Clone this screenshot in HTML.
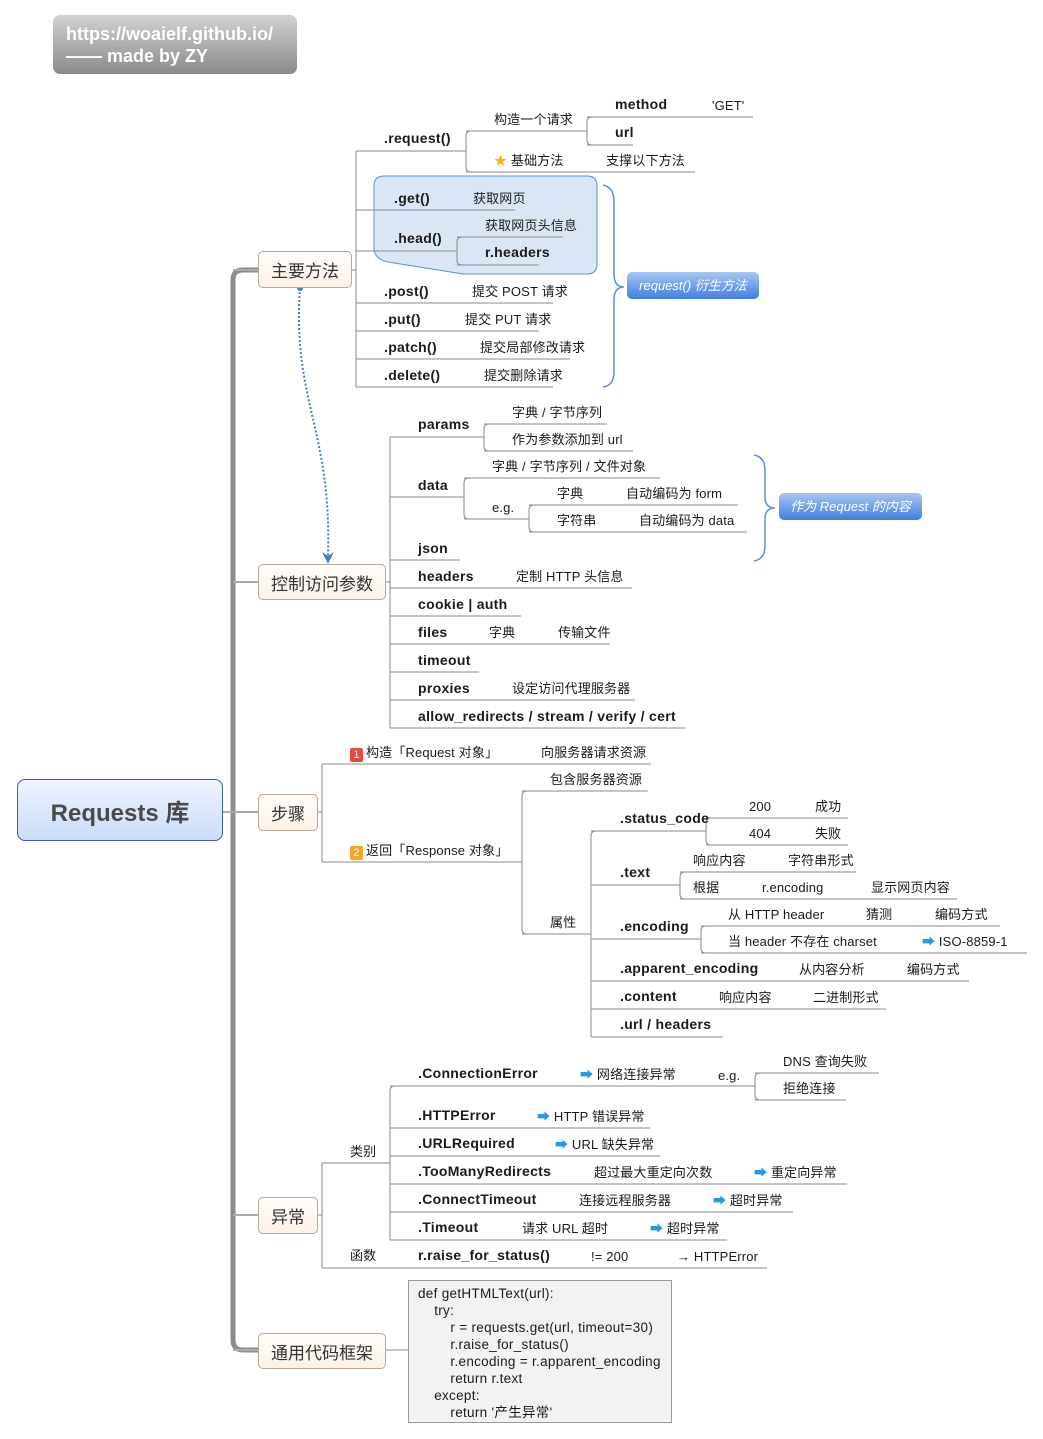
<!DOCTYPE html>
<html><head><meta charset="utf-8"><style>
body{margin:0;width:1043px;height:1439px;background:#fff;position:relative;overflow:hidden;font-family:"Liberation Sans","Noto Sans CJK SC",sans-serif;color:#1a1a1a}
.t{position:absolute;white-space:nowrap;font-size:13px;line-height:16px;letter-spacing:0.15px}
.b{font-weight:bold;font-size:14px;letter-spacing:0.3px}
.node{position:absolute;box-sizing:border-box;border:1px solid #b7a796;border-radius:5px;background:linear-gradient(#fffdfb,#fdf1e6);font-size:17px;display:flex;align-items:center;justify-content:center;color:#333}
.ar{color:#1e9be9}
.bd{display:inline-block;width:13px;height:14px;line-height:14px;text-align:center;color:#fff;font-size:11px;border-radius:2px;margin-right:3px;vertical-align:-1px}
svg{position:absolute;left:0;top:0}
</style></head><body>
<svg width="1043" height="1439">
<path d="M384,176 H587 Q597,176 597,186 V264 Q597,274 587,274 H463 L388,262 Q374,259 374,248 V186 Q374,176 384,176 Z" fill="#dbe6f4" stroke="#5d8fd4" stroke-width="1"/>
<g stroke="#8a8a8a" stroke-width="1" fill="none">
<path d="M352,270H356M356,151V387M356,151H466M356,210H515M356,251H457M356,303H553M356,331H539M356,359H570M356,387H553"/>
<path d="M471,131Q466,131 466,136V167Q466,172 471,172M466,131H587M466,172H695"/>
<path d="M592,117Q587,117 587,122V140Q587,145 592,145M587,117H753M587,145H633"/>
<path d="M462,237Q457,237 457,242V260Q457,265 462,265M457,237H563M457,265H539"/>
<path d="M386,582H390M390,437V728M390,437H484M390,497H464M390,560H460M390,588H632M390,616H521M390,644H610M390,672H479M390,700H635M390,728H685"/>
<path d="M489,424Q484,424 484,429V446Q484,451 489,451M484,424H607M484,451H633"/>
<path d="M469,478Q464,478 464,483V514Q464,519 469,519M464,478H660M464,519H529"/>
<path d="M534,505Q529,505 529,510V527Q529,532 534,532M529,505H738M529,532H747"/>
<path d="M318,812H322M322,764V862M322,764H651M322,862H522"/>
<path d="M527,791Q522,791 522,796V929Q522,934 527,934M522,791H648M522,934H591"/>
<path d="M596,831Q591,831 591,836V1037M591,831H706M591,885H680M591,939H701M591,981H969M591,1009H886M591,1037H723"/>
<path d="M711,818Q706,818 706,823V840Q706,845 711,845M706,818H848M706,845H848"/>
<path d="M685,872Q680,872 680,877V894Q680,899 685,899M680,872H856M680,899H957"/>
<path d="M706,926Q701,926 701,931V948Q701,953 706,953M701,926H1000M701,953H1027"/>
<path d="M318,1215H322M322,1163V1268M322,1163H390M322,1268H767"/>
<path d="M395,1086Q390,1086 390,1091V1240M390,1086H755M390,1128H650M390,1156H660M390,1184H847M390,1212H793M390,1240H727"/>
<path d="M760,1073Q755,1073 755,1078V1095Q755,1100 760,1100M755,1073H879M755,1100H846"/>
<path d="M386,1350H408"/>
</g>
<g stroke="#5b8fd6" stroke-width="1.5" fill="none">
<path d="M603,185 Q614,187 614,202 V274 Q614,287 624,287 Q614,287 614,300 V371 Q614,386 603,387"/>
<path d="M754,455 Q765,457 765,470 V497 Q765,508 775,508 Q765,508 765,519 V546 Q765,559 754,561"/>
</g>
<g fill="none">
<path d="M258,270H243Q233,270 233,280V1340Q233,1350 243,1350H258" stroke="#8c8c8c" stroke-width="5"/>
<path d="M233,270H258M233,582H258M223,812H258M233,1215H258M233,1350H258" stroke="#aaa" stroke-width="2"/>
</g>
<path d="M300,288 C292,400 332,430 328,556" stroke="#4a7cc0" stroke-width="2" stroke-dasharray="2,2" fill="none"/>
<circle cx="300" cy="288" r="3" fill="#4a7cc0"/>
<path d="M322,552 L328,564 L334,552 L328,556 Z" fill="#4a7cc0"/>
<rect x="408.5" y="1280.5" width="263" height="142" fill="#f2f2f2" stroke="#999"/>
</svg>

<div style="position:absolute;left:53px;top:15px;width:244px;height:59px;border-radius:7px;background:linear-gradient(#d2d2d2,#8a8a8a);color:#fff;font-weight:bold;font-size:18px;line-height:22px;padding:8px 0 0 13px;box-sizing:border-box">https://woaielf.github.io/<br>—— made by ZY</div>

<div style="position:absolute;left:17px;top:779px;width:206px;height:62px;box-sizing:border-box;border:1px solid #44608f;border-radius:8px;background:linear-gradient(#eef4ff,#cadcfa);display:flex;align-items:center;justify-content:center;font-size:24px;font-weight:bold;color:#4a4a4a">Requests 库</div>

<div class="node" style="left:258px;top:251px;width:94px;height:37px">主要方法</div>
<div class="node" style="left:258px;top:564px;width:128px;height:36px">控制访问参数</div>
<div class="node" style="left:258px;top:794px;width:60px;height:37px">步骤</div>
<div class="node" style="left:258px;top:1197px;width:60px;height:37px">异常</div>
<div class="node" style="left:258px;top:1333px;width:128px;height:36px">通用代码框架</div>

<div style="position:absolute;left:627px;top:272px;width:132px;height:27px;border-radius:5px;background:linear-gradient(#a9c6f2,#3f7fe0);color:#fff;font-style:italic;font-size:13px;line-height:27px;text-align:center">request() 衍生方法</div>
<div style="position:absolute;left:779px;top:493px;width:143px;height:27px;border-radius:5px;background:linear-gradient(#a9c6f2,#3f7fe0);color:#fff;font-style:italic;font-size:13px;line-height:27px;text-align:center">作为 Request 的内容</div>

<div class="t b" style="left:384px;top:130px">.request()</div>
<div class="t" style="left:494px;top:112px">构造一个请求</div>
<div class="t b" style="left:615px;top:96px">method</div>
<div class="t" style="left:712px;top:98px">'GET'</div>
<div class="t b" style="left:615px;top:124px">url</div>
<div class="t" style="left:494px;top:153px"><span style="color:#f4b400">★</span> 基础方法</div>
<div class="t" style="left:606px;top:153px">支撑以下方法</div>
<div class="t b" style="left:394px;top:190px">.get()</div>
<div class="t" style="left:473px;top:191px">获取网页</div>
<div class="t b" style="left:394px;top:230px">.head()</div>
<div class="t" style="left:485px;top:218px">获取网页头信息</div>
<div class="t b" style="left:485px;top:244px">r.headers</div>
<div class="t b" style="left:384px;top:283px">.post()</div>
<div class="t" style="left:472px;top:284px">提交 POST 请求</div>
<div class="t b" style="left:384px;top:311px">.put()</div>
<div class="t" style="left:465px;top:312px">提交 PUT 请求</div>
<div class="t b" style="left:384px;top:339px">.patch()</div>
<div class="t" style="left:480px;top:340px">提交局部修改请求</div>
<div class="t b" style="left:384px;top:367px">.delete()</div>
<div class="t" style="left:484px;top:368px">提交删除请求</div>

<div class="t b" style="left:418px;top:416px">params</div>
<div class="t" style="left:512px;top:405px">字典 / 字节序列</div>
<div class="t" style="left:512px;top:432px">作为参数添加到 url</div>
<div class="t b" style="left:418px;top:477px">data</div>
<div class="t" style="left:492px;top:459px">字典 / 字节序列 / 文件对象</div>
<div class="t" style="left:492px;top:500px">e.g.</div>
<div class="t" style="left:557px;top:486px">字典</div>
<div class="t" style="left:626px;top:486px">自动编码为 form</div>
<div class="t" style="left:557px;top:513px">字符串</div>
<div class="t" style="left:639px;top:513px">自动编码为 data</div>
<div class="t b" style="left:418px;top:540px">json</div>
<div class="t b" style="left:418px;top:568px">headers</div>
<div class="t" style="left:516px;top:569px">定制 HTTP 头信息</div>
<div class="t b" style="left:418px;top:596px">cookie | auth</div>
<div class="t b" style="left:418px;top:624px">files</div>
<div class="t" style="left:489px;top:625px">字典</div>
<div class="t" style="left:558px;top:625px">传输文件</div>
<div class="t b" style="left:418px;top:652px">timeout</div>
<div class="t b" style="left:418px;top:680px">proxies</div>
<div class="t" style="left:512px;top:681px">设定访问代理服务器</div>
<div class="t b" style="left:418px;top:708px">allow_redirects / stream / verify / cert</div>

<div class="t" style="left:350px;top:745px"><span class="bd" style="background:#e8483e">1</span>构造「Request 对象」</div>
<div class="t" style="left:541px;top:745px">向服务器请求资源</div>
<div class="t" style="left:350px;top:843px"><span class="bd" style="background:#f5a623">2</span>返回「Response 对象」</div>
<div class="t" style="left:550px;top:772px">包含服务器资源</div>
<div class="t" style="left:550px;top:915px">属性</div>
<div class="t b" style="left:620px;top:810px">.status_code</div>
<div class="t" style="left:749px;top:799px">200</div>
<div class="t" style="left:815px;top:799px">成功</div>
<div class="t" style="left:749px;top:826px">404</div>
<div class="t" style="left:815px;top:826px">失败</div>
<div class="t b" style="left:620px;top:864px">.text</div>
<div class="t" style="left:693px;top:853px">响应内容</div>
<div class="t" style="left:788px;top:853px">字符串形式</div>
<div class="t" style="left:693px;top:880px">根据</div>
<div class="t" style="left:762px;top:880px">r.encoding</div>
<div class="t" style="left:871px;top:880px">显示网页内容</div>
<div class="t b" style="left:620px;top:918px">.encoding</div>
<div class="t" style="left:728px;top:907px">从 HTTP header</div>
<div class="t" style="left:866px;top:907px">猜测</div>
<div class="t" style="left:935px;top:907px">编码方式</div>
<div class="t" style="left:728px;top:934px">当 header 不存在 charset</div>
<div class="t" style="left:922px;top:934px"><span class="ar">➡</span> ISO-8859-1</div>
<div class="t b" style="left:620px;top:960px">.apparent_encoding</div>
<div class="t" style="left:799px;top:962px">从内容分析</div>
<div class="t" style="left:907px;top:962px">编码方式</div>
<div class="t b" style="left:620px;top:988px">.content</div>
<div class="t" style="left:719px;top:990px">响应内容</div>
<div class="t" style="left:813px;top:990px">二进制形式</div>
<div class="t b" style="left:620px;top:1016px">.url / headers</div>

<div class="t" style="left:350px;top:1144px">类别</div>
<div class="t" style="left:350px;top:1248px">函数</div>
<div class="t b" style="left:418px;top:1065px">.ConnectionError</div>
<div class="t" style="left:580px;top:1067px"><span class="ar">➡</span> 网络连接异常</div>
<div class="t" style="left:718px;top:1068px">e.g.</div>
<div class="t" style="left:783px;top:1054px">DNS 查询失败</div>
<div class="t" style="left:783px;top:1081px">拒绝连接</div>
<div class="t b" style="left:418px;top:1107px">.HTTPError</div>
<div class="t" style="left:537px;top:1109px"><span class="ar">➡</span> HTTP 错误异常</div>
<div class="t b" style="left:418px;top:1135px">.URLRequired</div>
<div class="t" style="left:555px;top:1137px"><span class="ar">➡</span> URL 缺失异常</div>
<div class="t b" style="left:418px;top:1163px">.TooManyRedirects</div>
<div class="t" style="left:594px;top:1165px">超过最大重定向次数</div>
<div class="t" style="left:754px;top:1165px"><span class="ar">➡</span> 重定向异常</div>
<div class="t b" style="left:418px;top:1191px">.ConnectTimeout</div>
<div class="t" style="left:579px;top:1193px">连接远程服务器</div>
<div class="t" style="left:713px;top:1193px"><span class="ar">➡</span> 超时异常</div>
<div class="t b" style="left:418px;top:1219px">.Timeout</div>
<div class="t" style="left:522px;top:1221px">请求 URL 超时</div>
<div class="t" style="left:650px;top:1221px"><span class="ar">➡</span> 超时异常</div>
<div class="t b" style="left:418px;top:1247px">r.raise_for_status()</div>
<div class="t" style="left:591px;top:1249px">!= 200</div>
<div class="t" style="left:677px;top:1249px">→ HTTPError</div>

<div class="t" style="left:418px;top:1285px;line-height:17px;font-size:13.5px;letter-spacing:0.3px">def getHTMLText(url):<br>&nbsp;&nbsp;&nbsp;&nbsp;try:<br>&nbsp;&nbsp;&nbsp;&nbsp;&nbsp;&nbsp;&nbsp;&nbsp;r = requests.get(url, timeout=30)<br>&nbsp;&nbsp;&nbsp;&nbsp;&nbsp;&nbsp;&nbsp;&nbsp;r.raise_for_status()<br>&nbsp;&nbsp;&nbsp;&nbsp;&nbsp;&nbsp;&nbsp;&nbsp;r.encoding = r.apparent_encoding<br>&nbsp;&nbsp;&nbsp;&nbsp;&nbsp;&nbsp;&nbsp;&nbsp;return r.text<br>&nbsp;&nbsp;&nbsp;&nbsp;except:<br>&nbsp;&nbsp;&nbsp;&nbsp;&nbsp;&nbsp;&nbsp;&nbsp;return '产生异常'</div>
</body></html>
